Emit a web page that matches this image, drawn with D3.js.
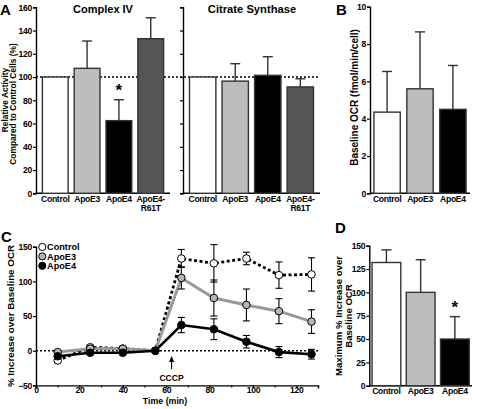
<!DOCTYPE html>
<html><head><meta charset="utf-8">
<script src="https://cdn.jsdelivr.net/npm/d3@7"></script>
<style>
body{margin:0;background:#fff;}
svg{font-family:"Liberation Sans",Arial,Helvetica,sans-serif;font-weight:bold;}
</style></head><body>
<svg id="chart" width="477" height="409"></svg>
<script>
// ---------- DATA ----------
const groupsA = ["Control","ApoE3","ApoE4","ApoE4-R61T"];
const complexIV = [100, 107.5, 62.5, 133];
const complexIVErr = [0, 23.5, 18, 18];
const citrate = [100, 96.5, 101.5, 91.5];
const citrateErr = [0, 15, 16, 7];
const yTicksA = [0,20,40,60,80,100,120,140,160];

const groupsB = ["Control","ApoE3","ApoE4"];
const baselineOCR = [4.35, 5.6, 4.5];
const baselineOCRErr = [2.18, 3.05, 2.35];
const yTicksB = [0,2,4,6,8,10];

const timeC = [10,25,40,55,67,82,97,112,127];
const ctrlC = [-14, 5, 3, 0, 133, 126, 133, 109, 110];
const ctrlCErr = [3, 3, 2, 1, 13, 27, 9, 19, 24];
const e3C = [-2, 3, 3, 0, 105, 76, 66, 57, 42];
const e3CErr = [2, 2, 2, 1, 16, 26, 23, 18, 17];
const e4C = [-8, -3, -3, 0, 37, 31, 13, -2, -5];
const e4CErr = [3, 2, 2, 1, 11, 15, 9, 8, 7];
const xTicksC = [0,20,40,60,80,100,120];
const yTicksC = [-50,0,50,100,150];

const groupsD = ["Control","ApoE3","ApoE4"];
const maxIncrease = [132, 100, 50];
const maxIncreaseErr = [13.5, 35, 24];
const yTicksD = [0,25,50,75,100,125,150];

const colA = ["#ffffff","#bdbdbd","#000000","#555555"];

// ---------- DRAW ----------
const svg = d3.select("#chart");
const FF = '"Liberation Sans",Arial,Helvetica,sans-serif';
const FONT = 8.6;
const bg = svg.append("g");   // background layer (reference lines)

function styleAxis(g){
  g.selectAll("path.domain").attr("stroke","#000").attr("stroke-width",1.4);
  g.selectAll(".tick line").attr("stroke","#000").attr("stroke-width",1.2);
  g.selectAll("text").attr("font-size",FONT).attr("font-weight","bold").attr("fill","#000")
   .attr("font-family",FF).attr("letter-spacing",-0.3);
}
function vText(x,y,txt,size){
  svg.append("g").attr("transform",`translate(${x},${y})`)
    .append("text").attr("transform","rotate(-90)").attr("text-anchor","middle")
    .attr("font-size",size).attr("font-family",FF).attr("font-weight","bold").text(txt);
}
function hText(x,y,txt,size,anchor){
  return svg.append("text").attr("x",x).attr("y",y).attr("text-anchor",anchor||"start")
    .attr("font-size",size).attr("font-family",FF).attr("font-weight","bold").text(txt);
}

function barPanel(opts){
  const x = d3.scaleBand().domain(opts.groups).range(opts.xr).paddingInner(opts.pin).paddingOuter(opts.pout);
  const y = d3.scaleLinear().domain(opts.ydom).range(opts.yr);
  const ya = svg.append("g").attr("transform",`translate(${opts.xr[0]},0)`)
    .call(d3.axisLeft(y).tickValues(opts.yticks).tickSize(3).tickPadding(1).tickFormat(opts.noLabels? ()=>"" : d3.format("d")));
  styleAxis(ya);
  const xa = svg.append("g").attr("transform",`translate(0,${opts.yr[0]})`)
    .call(d3.axisBottom(x).tickSize(0).tickPadding(2.5));
  styleAxis(xa);
  xa.selectAll("path.domain").attr("d",`M${opts.xr[0]},0H${opts.xr[1]}`);
  xa.selectAll(".tick text").each(function(d){
    const t=d3.select(this);
    if(d.indexOf("-")>0 && d.length>6){
      const parts=d.split("-");
      t.text(null);
      t.append("tspan").attr("x",0).text(parts[0]+"-");
      t.append("tspan").attr("x",0).attr("dy","1.1em").text(parts[1]);
    }
  });
  const g = svg.append("g");
  opts.vals.forEach((v,i)=>{
    const e = opts.errs[i];
    if(e>0){
      const cx = x(opts.groups[i]) + x.bandwidth()/2;
      g.append("line").attr("x1",cx).attr("x2",cx).attr("y1",y(v)).attr("y2",y(v+e)).attr("stroke","#333").attr("stroke-width",1.4);
      g.append("line").attr("x1",cx-5).attr("x2",cx+5).attr("y1",y(v+e)).attr("y2",y(v+e)).attr("stroke","#333").attr("stroke-width",1.4);
    }
  });
  g.selectAll("rect").data(opts.vals).enter().append("rect")
    .attr("x",(d,i)=>x(opts.groups[i]))
    .attr("width",x.bandwidth())
    .attr("y",d=>y(d))
    .attr("height",d=>y(0)-y(d))
    .attr("fill",(d,i)=>opts.colors[i])
    .attr("stroke","#333").attr("stroke-width",1.4);
  return {x,y};
}

// Panel A - Complex IV
const pA1 = barPanel({groups:groupsA, xr:[36,170], yr:[193.3,7.3], ydom:[0,160], yticks:yTicksA,
  vals:complexIV, errs:complexIVErr, colors:colA, pin:0.19, pout:0.2});
// Panel A - Citrate Synthase
const pA2 = barPanel({groups:groupsA, xr:[183,320], yr:[193.3,7.3], ydom:[0,160], yticks:yTicksA, noLabels:true,
  vals:citrate, errs:citrateErr, colors:colA, pin:0.19, pout:0.2});
bg.append("line").attr("x1",36).attr("x2",320).attr("y1",pA1.y(100)).attr("y2",pA1.y(100))
  .attr("stroke","#000").attr("stroke-width",1.4).attr("stroke-dasharray","2,2");

hText(103,13,"Complex IV",11,"middle");
hText(252,13,"Citrate Synthase",11.2,"middle");
hText(pA1.x("ApoE4")+pA1.x.bandwidth()/2, pA1.y(complexIV[2]+complexIVErr[2])-4, "*", 17, "middle");
vText(8,100,"Relative Activity",8.4);
vText(16,104,"Compared to Control Cells (%)",8.4);
hText(0,15,"A",15);

// Panel B
const pB = barPanel({groups:groupsB, xr:[370,470], yr:[193.3,6.7], ydom:[0,10], yticks:yTicksB,
  vals:baselineOCR, errs:baselineOCRErr, colors:colA, pin:0.2, pout:0.12});
vText(357.5,97.5,"Baseline OCR (fmol/min/cell)",10);
hText(336,15,"B",15);

// Panel D
const pD = barPanel({groups:groupsD, xr:[369.3,472], yr:[385.7,245.7], ydom:[0,150], yticks:yTicksD,
  vals:maxIncrease, errs:maxIncreaseErr, colors:colA, pin:0.16, pout:0.08});
hText(pD.x("ApoE4")+pD.x.bandwidth()/2, pD.y(maxIncrease[2]+maxIncreaseErr[2])-4, "*", 17, "middle");
vText(341.5,316,"Maximum % Increase over",9.6);
vText(351.5,316,"Baseline OCR",9.6);
hText(335,233,"D",15);

// Panel C
const xC = d3.scaleLinear().domain([0,130]).range([36,318]);
const yC = d3.scaleLinear().domain([-50,150]).range([385.4,246.7]);
const xaC = svg.append("g").attr("transform",`translate(0,${yC(-50)})`)
  .call(d3.axisBottom(xC).tickValues(d3.range(0,131,10)).tickSize(3).tickPadding(-1)
    .tickFormat(d=>xTicksC.includes(d)?d:""));
styleAxis(xaC);
xaC.selectAll(".tick").filter(d=>!xTicksC.includes(d)).select("line").attr("y2",2);
const yaC = svg.append("g").attr("transform",`translate(${xC(0)},0)`)
  .call(d3.axisLeft(yC).tickValues(yTicksC).tickSize(3).tickPadding(1).tickFormat(d=>d<0?"\u221250":d));
styleAxis(yaC);
bg.append("line").attr("x1",xC(0)).attr("x2",xC(130)).attr("y1",yC(0)).attr("y2",yC(0))
  .attr("stroke","#000").attr("stroke-width",1.3).attr("stroke-dasharray","2,2");

const series = [
  {vals:ctrlC, errs:ctrlCErr, stroke:"#000", dash:"3,2.5", fill:"#fff", w:2.8},
  {vals:e3C, errs:e3CErr, stroke:"#999", dash:null, fill:"#b5b5b5", w:3},
  {vals:e4C, errs:e4CErr, stroke:"#000", dash:null, fill:"#000", w:2.6}
];
const line = d3.line().x((d,i)=>xC(timeC[i])).y(d=>yC(d));
series.forEach(s=>{
  const p = svg.append("path").datum(s.vals).attr("d",line).attr("fill","none")
    .attr("stroke",s.stroke).attr("stroke-width",s.w);
  if(s.dash) p.attr("stroke-dasharray",s.dash);
});
series.forEach(s=>{
  const g = svg.append("g");
  s.vals.forEach((v,i)=>{
    const cx=xC(timeC[i]), e=s.errs[i];
    g.append("line").attr("x1",cx).attr("x2",cx).attr("y1",yC(v-e)).attr("y2",yC(v+e)).attr("stroke","#000").attr("stroke-width",1.1);
    [v-e,v+e].forEach(q=>g.append("line").attr("x1",cx-3.5).attr("x2",cx+3.5).attr("y1",yC(q)).attr("y2",yC(q)).attr("stroke","#000").attr("stroke-width",1.1));
  });
});
series.forEach(s=>{
  svg.append("g").selectAll("circle").data(s.vals).enter().append("circle")
    .attr("cx",(d,i)=>xC(timeC[i])).attr("cy",d=>yC(d)).attr("r",3.8)
    .attr("fill",s.fill).attr("stroke","#000").attr("stroke-width",1);
});
const legNames = ["Control","ApoE3","ApoE4"];
legNames.forEach((n,i)=>{
  const ly = 247 + i*9.4;
  svg.append("circle").attr("cx",42.3).attr("cy",ly).attr("r",3.6).attr("fill",series[i].fill).attr("stroke","#000").attr("stroke-width",1);
  hText(47,ly+3.3,n,9.2);
});
const ax = xC(62.5);
svg.append("line").attr("x1",ax).attr("x2",ax).attr("y1",357).attr("y2",369).attr("stroke","#000").attr("stroke-width",1.1);
svg.append("path").attr("d",`M${ax-2.5},${362} L${ax},${356} L${ax+2.5},${362} Z`).attr("fill","#000");
hText(ax,381,"CCCP",8.6,"middle");
hText(165,404,"Time (min)",8.8,"middle");
vText(13.5,316,"% Increase over Baseline OCR",9.8);
hText(1,242,"C",15);
</script>
</body></html>
